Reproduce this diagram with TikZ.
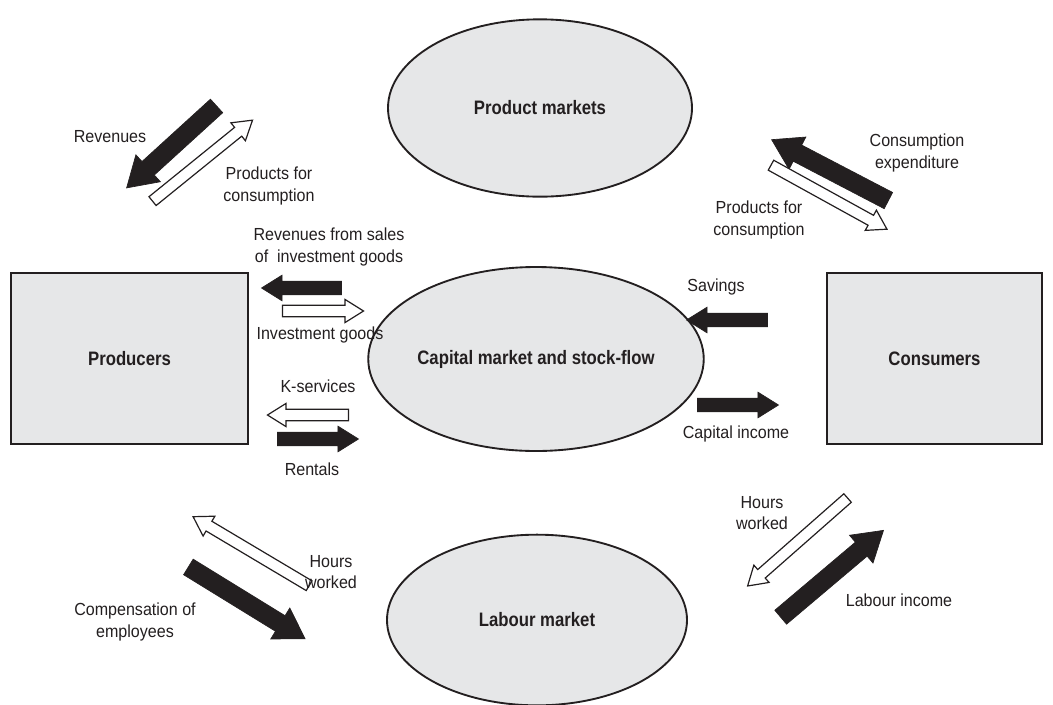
\documentclass[tikz,border=0pt]{standalone}
\usepackage{fontspec}
\setmainfont{Liberation Sans}[FakeStretch=0.92,BoldFeatures={FakeStretch=0.86}]
\usetikzlibrary{shapes.geometric,shapes.arrows,calc}
\definecolor{inkdark}{HTML}{231F20}
\definecolor{boxgray}{HTML}{E6E7E8}
\tikzset{
  market/.style={ellipse,draw=inkdark,fill=boxgray,line width=1.4pt,inner sep=0pt,
    font=\fontsize{14.6}{17}\selectfont\bfseries,text=inkdark},
  sector/.style={rectangle,draw=inkdark,fill=boxgray,line width=1.8pt,inner sep=0pt,
    font=\fontsize{14.6}{17}\selectfont\bfseries,text=inkdark},
  lbl/.style={font=\fontsize{13.1}{16.2}\selectfont,text=inkdark,align=center,inner sep=0pt},
  flowblack/.style={single arrow,draw=inkdark,fill=inkdark,line width=0.5pt,
    inner xsep=0pt,inner ysep=4.9pt,single arrow head extend=4.5pt,single arrow tip angle=64},
  flowbig/.style={flowblack,inner ysep=6.6pt,single arrow head extend=6.8pt},
  flowwhite/.style={single arrow,draw=inkdark,fill=white,line width=0.9pt,
    inner xsep=0pt,inner ysep=3.8pt,single arrow head extend=4.4pt,single arrow tip angle=64},
}
% block arrow from tail to tip
\newcommand\flowarrow[4]{%
  \path let \p1=($#4-#3$),\n1={atan2(\y1,\x1)},\n2={veclen(\x1,\y1)} in
    node[#1,rotate=\n1,minimum height=\n2] (#2) at ($#3!.5!#4$) {};}

\begin{document}
\begin{tikzpicture}[x=0.75pt,y=-0.75pt]
  \useasboundingbox (0,0) rectangle (1053,704);

  % markets and sectors
  \node[market,minimum width=228pt,minimum height=133pt] (prodmkt) at (540,108) {Product markets};
  \node[market,minimum width=225pt,minimum height=138pt] (capmkt) at (536,359) {Capital market and stock-flow};
  \node[market,minimum width=225pt,minimum height=128pt] (labmkt) at (537,620) {Labour market};
  \node[sector,minimum width=178pt,minimum height=128pt] (producers) at (129.5,358.5) {Producers};
  \node[sector,minimum width=161pt,minimum height=128pt] (consumers) at (934.5,358.5) {Consumers};

  % product flows
  \flowarrow{flowbig}{revArr}{(222,101)}{(132,183)}
  \flowarrow{flowwhite}{prodArrL}{(149,204)}{(249,123)}
  \node[lbl] (revLbl) at (110,137) {Revenues};
  \node[lbl] (prodLblL) at (269,186) {Products for\\consumption};
  \flowarrow{flowbig}{consArr}{(895,204)}{(778,143)}
  \flowarrow{flowwhite}{prodArrR}{(767,163)}{(883,227)}
  \node[lbl] (consLbl) at (917,153) {Consumption\\expenditure};
  \node[lbl] (prodLblR) at (759,220) {Products for\\consumption};

  % capital flows
  \flowarrow{flowblack}{invRevArr}{(347,288)}{(267,288)}
  \flowarrow{flowwhite}{invArr}{(278,311)}{(359,311)}
  \node[lbl] (invRevLbl) at (329,247) {Revenues from sales\\of~ investment goods};
  \node[lbl] (invLbl) at (320,335) {Investment goods};
  \flowarrow{flowwhite}{kservArr}{(353,415)}{(272,415)}
  \flowarrow{flowblack}{rentArr}{(272,439)}{(353,439)}
  \node[lbl] (kservLbl) at (318,386) {K-services};
  \node[lbl] (rentLbl) at (312,469) {Rentals};
  \flowarrow{flowblack}{savArr}{(773,320)}{(692,320)}
  \flowarrow{flowblack}{capincArr}{(692,405)}{(773,405)}
  \node[lbl] (savLbl) at (716,287) {Savings};
  \node[lbl] (capincLbl) at (736,434) {Capital income};

  % labour flows
  \flowarrow{flowwhite}{hoursArrL}{(313,588)}{(197,519)}
  \flowarrow{flowbig}{compArr}{(182,563)}{(299,635)}
  \node[lbl] (hoursLblL) at (331,572) {Hours\\worked};
  \node[lbl] (compLbl) at (135,622) {Compensation of\\employees};
  \flowarrow{flowwhite}{hoursArrR}{(851,495)}{(751,583)}
  \flowarrow{flowbig}{labincArr}{(775,622)}{(878,535)}
  \node[lbl] (hoursLblR) at (762,513) {Hours\\worked};
  \node[lbl] (labincLbl) at (899,600) {Labour income};
\end{tikzpicture}
\end{document}
